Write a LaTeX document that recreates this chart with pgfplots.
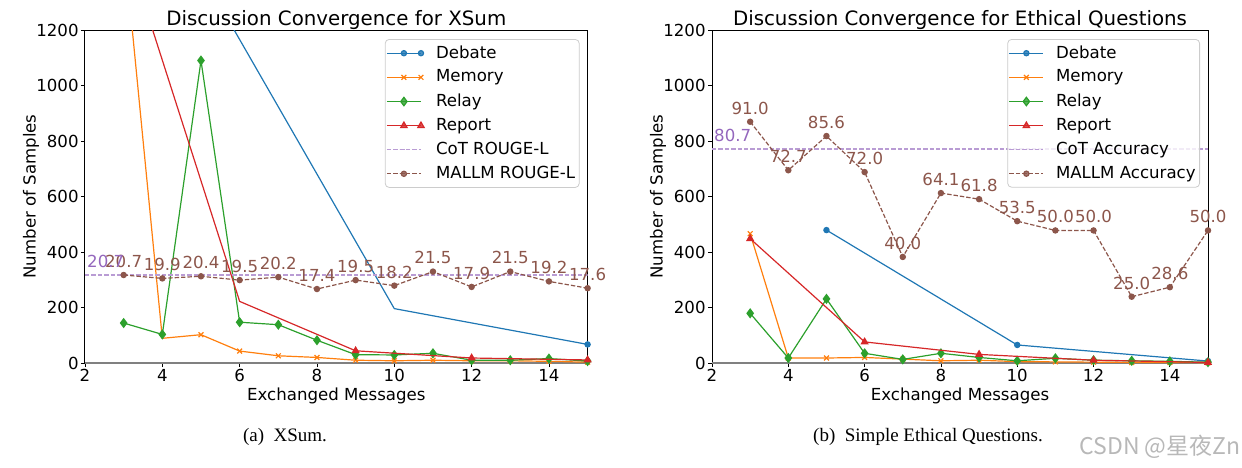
\documentclass[border=0pt]{standalone}
\usepackage{fontspec}
\setmainfont{DejaVu Sans}
\newfontfamily\capfont{Liberation Serif}
\newfontfamily\cjk{Noto Sans CJK SC}
\usepackage{pgfplots}
\pgfplotsset{compat=1.18}

\definecolor{tabblue}{HTML}{1F77B4}
\definecolor{taborange}{HTML}{FF7F0E}
\definecolor{tabgreen}{HTML}{2CA02C}
\definecolor{tabred}{HTML}{D62728}
\definecolor{tabpurple}{HTML}{9467BD}
\definecolor{tabbrown}{HTML}{8C564B}

\newcommand\fs{\fontsize{8.3}{9.8}\selectfont}
\newcommand\ft{\fontsize{9.9}{11.5}\selectfont}

\pgfplotsset{
  conv/.style={
    scale only axis, height=166.5pt,
    xmin=2, xmax=15, ymin=0, ymax=1200,
    xtick={2,4,...,14}, ytick={0,200,...,1200},
    tick align=outside, tick pos=left, major tick length=2pt,
    tick style={black, line width=0.4pt},
    axis line style={line width=0.5pt},
    font=\fs,
    /pgf/number format/assume math mode=true,
    /pgf/number format/1000 sep={},
    xticklabel style={inner sep=1pt},
    yticklabel style={inner sep=1pt},
    xlabel={Exchanged Messages}, ylabel={Number of Samples},
    xlabel style={inner sep=0pt, yshift=-2pt},
    ylabel style={inner sep=0pt, yshift=-2.5pt},
    title style={font=\ft, at={(0.5,1)}, anchor=base, yshift=-3.8pt},
    legend style={at={(1,1)}, anchor=north east, xshift=-4pt, yshift=-4.5pt,
      draw=black!20, rounded corners=2pt, fill=white, fill opacity=0.8,
      draw opacity=1, text opacity=1, row sep=1.4pt, column sep=4.5pt,
      inner xsep=0.5pt, inner ysep=1.5pt, nodes={inner sep=1.5pt}, font=\fs},
    legend cell align=left,
    clip mode=individual,
    every axis plot/.append style={line width=0.6pt},
  },
  mallm/.style={tabbrown, dashed, dash pattern=on 2.2pt off 1pt,
    mark=*, mark size=1.3pt, mark options={solid},
    point meta=explicit symbolic, nodes near coords,
    every node near coord/.append style={anchor=base, yshift=3.8pt,
      inner sep=0pt, text=tabbrown, font=\fs}},
  cot/.style={tabpurple!65!white, dash pattern=on 2.2pt off 1pt},
  cotlabel/.style={draw=none, forget plot, nodes near coords={#1},
    every node near coord/.append style={anchor=base west, xshift=0.8pt,
      yshift=3.8pt, inner sep=0pt, text=tabpurple, font=\fs}},
}

\begin{document}
\begin{tikzpicture}
\path[use as bounding box] (0,0) rectangle (621pt,233.5pt);

\begin{axis}[conv, width=251.3pt, at={(42.5pt,52pt)}, anchor=south west,
  title={Discussion Convergence for XSum}]
  \addplot[gray, line width=1pt, forget plot] coordinates {(2,0) (15,0)};
  \addplot[tabblue, mark=*, mark size=1.3pt, mark indices={2,3}]
    coordinates {(5,1408) (10,196) (15,67)};
  \addplot[taborange, mark=x, mark size=1.7pt, mark indices={2,3,4,5,6,7,8,9,10,11,12,13}]
    coordinates {(3,1520) (4,89) (5,102) (6,43) (7,26) (8,20) (9,10) (10,8)
                 (11,10) (12,8) (13,8) (14,6) (15,3)};
  \addplot[tabgreen, mark=diamond*, mark size=2.1pt]
    coordinates {(3,144) (4,103) (5,1090) (6,147) (7,138) (8,82) (9,30) (10,29)
                 (11,35) (12,10) (13,10) (14,16) (15,7)};
  \addplot[tabred, mark=triangle*, mark size=1.8pt, mark indices={2,3,4,5}]
    coordinates {(3,1526) (6,222) (9,44) (12,18) (15,11)};
  \addplot[cot] coordinates {(2,317.1) (15,317.1)};
  \addplot[mallm] coordinates {
    (3,317.1) [20.7] (4,304.9) [19.9] (5,312.5) [20.4] (6,298.7) [19.5]
    (7,309.5) [20.2] (8,266.6) [17.4] (9,298.7) [19.5] (10,278.8) [18.2]
    (11,329.4) [21.5] (12,274.2) [17.9] (13,329.4) [21.5] (14,294.1) [19.2]
    (15,269.6) [17.6]};
  \addplot[cotlabel={20.7}] coordinates {(2,317.1)};
  \legend{Debate, Memory, Relay, Report, CoT ROUGE-L, MALLM ROUGE-L}
\end{axis}

\begin{axis}[conv, width=248pt, at={(356pt,52pt)}, anchor=south west,
  title={Discussion Convergence for Ethical Questions}]
  \addplot[gray, line width=1pt, forget plot] coordinates {(2,0) (15,0)};
  \addplot[tabblue, mark=*, mark size=1.3pt]
    coordinates {(5,479) (10,65) (15,7)};
  \addplot[taborange, mark=x, mark size=1.7pt]
    coordinates {(3,466) (4,18) (5,18) (6,20) (7,14) (8,8) (9,10) (10,5)
                 (11,4) (12,3) (13,2) (14,2) (15,1)};
  \addplot[tabgreen, mark=diamond*, mark size=2.1pt]
    coordinates {(3,179) (4,18) (5,231) (6,35) (7,13) (8,35) (9,20) (10,8)
                 (11,17) (12,10) (13,8) (14,6) (15,3)};
  \addplot[tabred, mark=triangle*, mark size=1.8pt]
    coordinates {(3,448) (6,76) (9,31) (12,10) (15,2)};
  \addplot[cot] coordinates {(2,771) (15,771)};
  \addplot[mallm] coordinates {
    (3,869.4) [91.0] (4,694.6) [72.7] (5,817.8) [85.6] (6,687.9) [72.0]
    (7,382.2) [40.0] (8,612.4) [64.1] (9,590.4) [61.8] (10,511.1) [53.5]
    (11,477.7) [50.0] (12,477.7) [50.0] (13,238.9) [25.0] (14,273.2) [28.6]
    (15,477.7) [50.0]};
  \addplot[cotlabel={80.7}] coordinates {(2,771)};
  \legend{Debate, Memory, Relay, Report, CoT Accuracy, MALLM Accuracy}
\end{axis}

\node[font=\capfont\fontsize{9.5}{11}\selectfont, anchor=base] at (142.5pt,13pt) {(a)\ \ XSum.};
\node[font=\capfont\fontsize{9.5}{11}\selectfont, anchor=base] at (464pt,13pt) {(b)\ \ Simple Ethical Questions.};
\node[font=\cjk\fontsize{11.5}{13}\selectfont, text=black!28, anchor=base west, inner sep=0pt] at (539.5pt,6.5pt) {CSDN @星夜Zn};
\end{tikzpicture}
\end{document}
